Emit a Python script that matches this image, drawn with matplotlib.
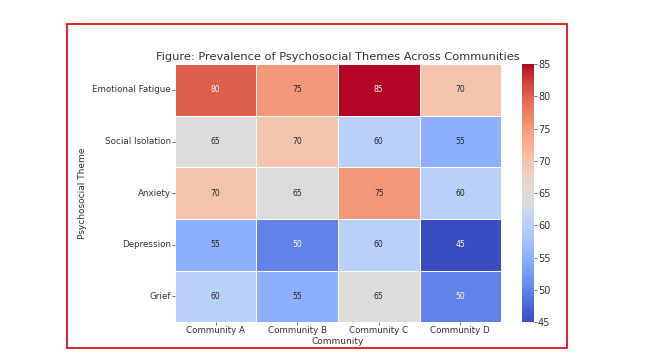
import matplotlib.pyplot as plt
import matplotlib.patches as patches
import numpy as np
import seaborn as sns

themes = ['Emotional Fatigue', 'Social Isolation', 'Anxiety', 'Depression', 'Grief']
communities = ['Community A', 'Community B', 'Community C', 'Community D']
values = np.array([
    [80, 75, 85, 70],
    [65, 70, 60, 55],
    [70, 65, 75, 60],
    [55, 50, 60, 45],
    [60, 55, 65, 50],
])

fig = plt.figure(figsize=(6.55, 3.62), dpi=100)
ax = fig.add_axes([0.267, 0.110, 0.498, 0.713])
cax = fig.add_axes([0.797, 0.110, 0.018, 0.713])

sns.heatmap(values, ax=ax, cbar_ax=cax, cmap='coolwarm', annot=True, fmt='d',
            linewidths=0.6, linecolor='white', vmin=45, vmax=85,
            xticklabels=communities, yticklabels=themes,
            annot_kws={'fontsize': 5.5})

ax.set_title('Figure: Prevalence of Psychosocial Themes Across Communities',
             fontsize=8.2, color='#333333', pad=3)
ax.set_xlabel('Community', fontsize=6.5, color='#333333', labelpad=1)
ax.set_ylabel('Psychosocial Theme', fontsize=6.5, color='#333333', labelpad=4)
ax.tick_params(axis='both', labelsize=6.3, colors='#333333', length=2, width=0.5, pad=1)
plt.setp(ax.get_yticklabels(), rotation=0)
plt.setp(ax.get_xticklabels(), rotation=0)
cax.tick_params(labelsize=7, colors='#333333', length=2, width=0.5, pad=1)
cax.set_yticks([45, 50, 55, 60, 65, 70, 75, 80, 85])

# red frame around the screenshot
fig.patches.append(patches.Rectangle((0.102, 0.039), 0.763, 0.895, transform=fig.transFigure,
                                     fill=False, edgecolor='#dd0000', linewidth=1.2))

fig.savefig('out.png', dpi=100)
